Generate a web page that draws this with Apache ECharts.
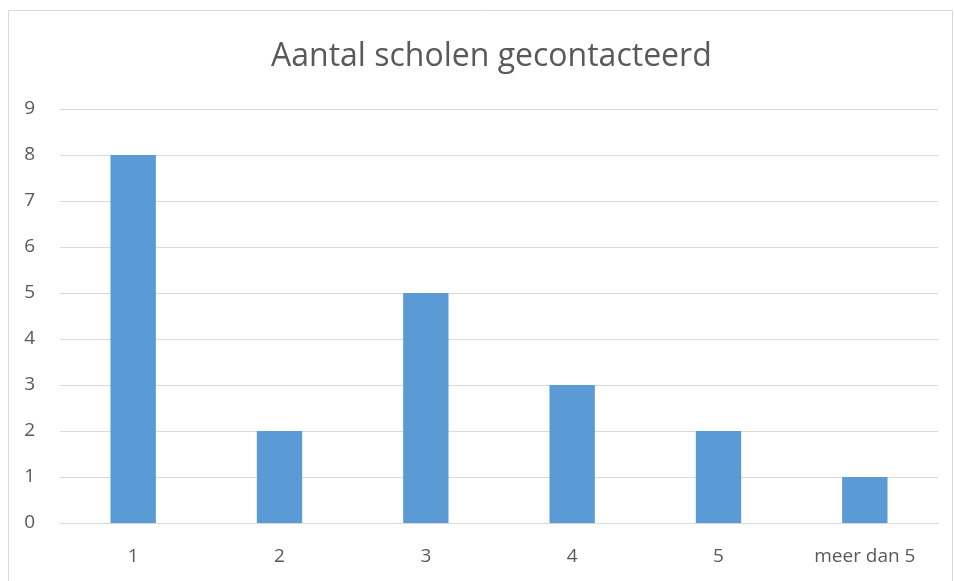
<!DOCTYPE html>
<html><head><meta charset="utf-8">
<script src="https://cdn.jsdelivr.net/npm/echarts@6/dist/echarts.min.js"></script>
<style>html,body{margin:0;padding:0;background:#fff}#c{width:955px;height:581px}</style>
</head><body><div id="c"></div>
<script>
const categories = ['1', '2', '3', '4', '5', 'meer dan 5'];
const values = [8, 2, 5, 3, 2, 1];
const titleText = 'Aantal scholen gecontacteerd';

const chart = echarts.init(document.getElementById('c'));
chart.setOption({
  animation: false,
  title: {
    text: titleText, left: 266, top: 36,
    textStyle: { fontFamily: 'Open Sans', fontSize: 32, fontWeight: 'normal', color: '#595959' }
  },
  graphic: [{ type: 'rect', shape: { x: 8.5, y: 10.5, width: 944, height: 580 },
    style: { fill: 'none', stroke: '#d9d9d9', lineWidth: 1 }, silent: true }],
  grid: { left: 60, right: 17, top: 109, bottom: 58, containLabel: false },
  xAxis: {
    type: 'category', data: categories,
    axisLine: { show: true, lineStyle: { color: '#d9d9d9', width: 1 } },
    axisTick: { show: false },
    axisLabel: { color: '#595959', fontFamily: 'Open Sans', fontSize: 19, margin: 24 }
  },
  yAxis: {
    type: 'value', min: 0, max: 9, interval: 1,
    axisLine: { show: false }, axisTick: { show: false },
    axisLabel: { color: '#595959', fontFamily: 'Open Sans', fontSize: 19, margin: 25 },
    splitLine: { lineStyle: { color: '#d9d9d9', width: 1 } }
  },
  series: [{
    type: 'bar', data: values, barWidth: '31%',
    itemStyle: { color: '#5b9bd5' }
  }]
});
</script></body></html>
